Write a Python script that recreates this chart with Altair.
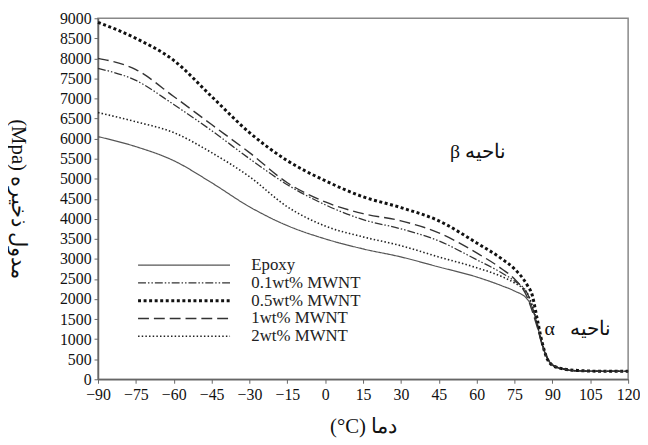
import altair as alt
import pandas as pd

temps = [-90, -75, -60, -45, -30, -15, 0, 15, 30, 45, 60, 70, 75, 80, 82, 84, 86, 88, 90, 95, 100, 110, 120]
epoxy = [6050, 5800, 5450, 4900, 4300, 3830, 3500, 3250, 3050, 2800, 2550, 2330, 2200, 2000, 1800, 1350, 850, 520, 350, 240, 210, 200, 200]
mw01 = [7750, 7450, 6850, 6200, 5500, 4850, 4350, 3980, 3750, 3450, 2980, 2650, 2450, 2150, 1800, 1350, 870, 530, 360, 250, 210, 200, 200]
mw05 = [8900, 8500, 7950, 7050, 6150, 5450, 4950, 4550, 4280, 3950, 3400, 3000, 2750, 2350, 2100, 1500, 900, 500, 350, 250, 220, 200, 200]
mw1 = [8000, 7720, 7050, 6350, 5650, 4900, 4420, 4130, 3950, 3650, 3150, 2750, 2500, 2050, 1700, 1300, 850, 520, 360, 250, 210, 200, 200]
mw2 = [6650, 6420, 6150, 5650, 5050, 4300, 3820, 3550, 3330, 3050, 2780, 2560, 2400, 2150, 1850, 1400, 880, 540, 360, 250, 210, 200, 200]

series_names = ["Epoxy", "0.1wt% MWNT", "0.5wt% MWNT", "1wt% MWNT", "2wt% MWNT"]
series_values = [epoxy, mw01, mw05, mw1, mw2]

x_ticks = list(range(-90, 121, 15))
y_ticks = list(range(0, 9001, 500))

anno_text = ["β ناحیه", "α\u00a0\u00a0\u00a0ناحیه"]
anno_x = [60.5, 100]
anno_y = [5670, 1260]

rows = []
for name, vals in zip(series_names, series_values):
    for t, v in zip(temps, vals):
        rows.append({"T": t, "E": v, "series": name})
df = pd.DataFrame(rows)
anno = pd.DataFrame({"text": anno_text, "T": anno_x, "E": anno_y})

FONT = "Liberation Serif"
AFONT = "Times New Roman, Liberation Serif, serif"

xs = alt.Scale(domain=[-90, 120], nice=False, zero=False)
ys = alt.Scale(domain=[0, 9000], nice=False)

axis_common = dict(format="d", labelOverlap=False, labelFont=AFONT, titleFont=AFONT,
                   labelFontSize=16, titleFontSize=21, titleFontWeight="normal",
                   labelColor="#111", titleColor="#111", grid=False,
                   domainColor="#666666", tickColor="#666666", domainWidth=1.5,
                   tickSize=4)
x_axis = alt.Axis(values=x_ticks, title="(°C) دما", labelPadding=3, titlePadding=14,
                  labelFlush=False, **axis_common)
y_axis = alt.Axis(values=y_ticks, title="(Mpa)  مدول ذخیره", titleAngle=90,
                  titlePadding=52, labelPadding=3, **axis_common)

lines = alt.Chart(df).mark_line(interpolate="monotone").encode(
    x=alt.X("T:Q", scale=xs, axis=x_axis),
    y=alt.Y("E:Q", scale=ys, axis=y_axis),
    strokeDash=alt.StrokeDash(
        "series:N",
        scale=alt.Scale(domain=series_names,
                        range=[[1, 0], [8, 2, 1.5, 2, 1.5, 2], [3, 2.6], [11, 5], [1.5, 2.2]]),
        legend=alt.Legend(title=None, orient="none", legendX=39, legendY=241,
                          symbolType="stroke", symbolSize=8649, labelOffset=20,
                          clipHeight=17, rowPadding=0,
                          labelFont=FONT, labelFontSize=17, labelColor="#222",
                          labelLimit=300),
    ),
    color=alt.Color("series:N", scale=alt.Scale(domain=series_names,
                    range=["#555555", "#333333", "#111111", "#333333", "#222222"])),
    strokeWidth=alt.StrokeWidth("series:N", scale=alt.Scale(type="ordinal", domain=series_names,
                    range=[1.2, 1.3, 3, 1.4, 1.6])),
)

texts = alt.Chart(anno).mark_text(font=FONT, fontSize=20, color="#111").encode(
    x=alt.X("T:Q", scale=xs, axis=x_axis), y=alt.Y("E:Q", scale=ys, axis=y_axis), text="text:N"
)

chart = (lines + texts).properties(width=536, height=365, padding=0).configure(
    font=FONT
).configure_view(
    stroke="#888888", strokeWidth=1.5
).configure_legend(labelFont=FONT)

chart.save("out.html", embed_options={"renderer": "svg", "actions": False})
